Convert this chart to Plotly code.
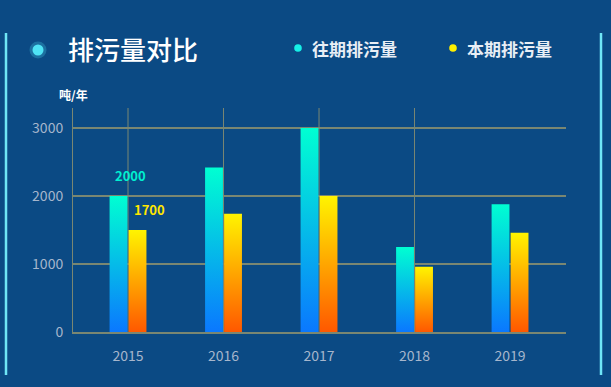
import plotly.graph_objects as go

# ---------------- data ----------------
categories = ["2015", "2016", "2017", "2018", "2019"]
past_values = [2000, 2420, 3000, 1250, 1880]      # 往期排污量
current_values = [1500, 1740, 2000, 960, 1460]    # 本期排污量
series_names = ["往期排污量", "本期排污量"]
y_ticks = [0, 1000, 2000, 3000]
unit_label = "吨/年"
title_text = "排污量对比"
# value labels shown on the first group only (as in the original)
past_labels = ["2000", None, None, None, None]
current_labels = ["1700", None, None, None, None]

# ---------------- style ----------------
W, H = 611, 387
BG = "#0b4a84"
GRID = "#7a8772"
TICK_COLOR = "#a6b6cc"
FONT = "Noto Sans CJK SC"
BAR_W = 0.187
HALF_GAP = 0.006
CYAN_SCALE = [[0, "#0a78ff"], [1, "#00ffd2"]]
YELLOW_SCALE = [[0, "#ff5800"], [1, "#fff400"]]
Y_MAX = 3294


def px(x):
    return x / W


def py(y):
    return 1 - y / H


fig = go.Figure()

series = [
    (past_values, CYAN_SCALE, -1, past_labels, "#00f0d0"),
    (current_values, YELLOW_SCALE, 1, current_labels, "#ffe600"),
]

for (vals, cscale, side, labels, lcol), name in zip(series, series_names):
    for i, v in enumerate(vals):
        if side < 0:
            x0, x1 = i - HALF_GAP - BAR_W, i - HALF_GAP
        else:
            x0, x1 = i + HALF_GAP, i + HALF_GAP + BAR_W
        fig.add_trace(go.Scatter(
            x=[x0, x0, x1, x1, x0],
            y=[0, v, v, 0, 0],
            mode="lines",
            fill="toself",
            fillgradient=dict(type="vertical", colorscale=cscale),
            line=dict(width=0),
            name=name,
            showlegend=False,
            hoverinfo="skip",
        ))
        if labels[i] is not None:
            fig.add_annotation(
                x=(x0 + x1) / 2, y=v, xref="x", yref="y",
                text=f"<b>{labels[i]}</b>", showarrow=False,
                xshift=12, yshift=21,
                font=dict(family=FONT, size=13, color=lcol),
            )

# vertical split lines at category centres (none at the last one, as in the original)
for i in range(len(categories) - 1):
    fig.add_shape(type="line", xref="x", yref="y", x0=i, x1=i, y0=0, y1=Y_MAX,
                  line=dict(color=GRID, width=1), layer="below")

# decorative side lines
for xx in (6, 601):
    fig.add_shape(type="line", xref="paper", yref="paper",
                  x0=px(xx), x1=px(xx), y0=py(33), y1=py(375),
                  line=dict(color="#6fe6f6", width=2.5))

# title dot with glow
for r, op in ((8.5, 0.25), (5.5, 1.0)):
    fig.add_shape(type="circle", xref="paper", yref="paper",
                  x0=px(38 - r), x1=px(38 + r), y0=py(50 + r), y1=py(50 - r),
                  fillcolor="#4fe3f5", opacity=op, line=dict(width=0))

# title
fig.add_annotation(xref="paper", yref="paper", x=px(66), y=py(49),
                   xanchor="left", yanchor="middle", showarrow=False,
                   text=title_text,
                   font=dict(family=FONT, size=26, color="#ffffff", weight=500))

# legend (custom, dots + text)
legend_items = [(series_names[0], "#16f0e6", 298, 310), (series_names[1], "#fff000", 453, 465)]
for name, col, dx, tx in legend_items:
    fig.add_shape(type="circle", xref="paper", yref="paper",
                  x0=px(dx - 3.8), x1=px(dx + 3.8), y0=py(48 + 3.8), y1=py(48 - 3.8),
                  fillcolor=col, line=dict(width=0))
    fig.add_annotation(xref="paper", yref="paper", x=px(tx), y=py(48),
                       xanchor="left", yanchor="middle", showarrow=False,
                       text=f"<b>{name}</b>",
                       font=dict(family=FONT, size=17, color="#e8eef5"))

# unit label
fig.add_annotation(xref="paper", yref="paper", x=px(57), y=py(94),
                   xanchor="left", yanchor="middle", showarrow=False,
                   text=f"<b>{unit_label}</b>",
                   font=dict(family=FONT, size=12, color="#ffffff"))

fig.update_layout(
    width=W, height=H,
    autosize=False,
    margin=dict(l=0, r=0, t=0, b=0, pad=0, autoexpand=False),
    paper_bgcolor=BG, plot_bgcolor=BG,
    showlegend=False,
    xaxis=dict(
        domain=[px(73), px(566)],
        range=[-0.576, 4.586],
        tickmode="array",
        tickvals=list(range(len(categories))),
        ticktext=categories,
        showgrid=False, zeroline=False,
        showline=True, linecolor=GRID, linewidth=1.5,
        ticks="", ticklabelstandoff=10,
        automargin=False,
        tickfont=dict(family=FONT, size=14, color=TICK_COLOR),
        fixedrange=True,
    ),
    yaxis=dict(
        domain=[py(332), py(108)],
        range=[0, Y_MAX],
        tickmode="array",
        tickvals=y_ticks,
        ticktext=[str(t) for t in y_ticks],
        showgrid=True, gridcolor=GRID, gridwidth=1.5,
        zeroline=False,
        showline=True, linecolor=GRID, linewidth=1,
        ticks="", ticklabelstandoff=6,
        automargin=False,
        tickfont=dict(family=FONT, size=14, color=TICK_COLOR),
        fixedrange=True,
    ),
)

fig.write_html(
    "out.html",
    config={"displayModeBar": False},
    post_script="document.body.style.margin='0';document.body.style.background='%s';" % BG,
)
